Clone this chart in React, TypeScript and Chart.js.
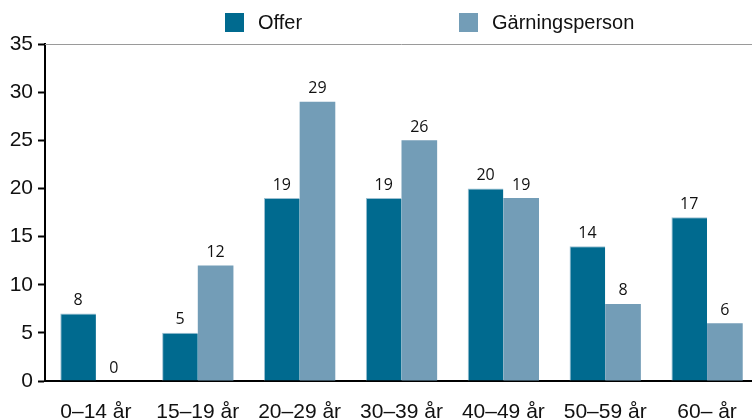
import React, { useEffect, useRef } from "react";
import { Chart, registerables } from "chart.js";

Chart.register(...registerables);

const categories = ["0–14 år", "15–19 år", "20–29 år", "30–39 år", "40–49 år", "50–59 år", "60– år"];
const seriesNames = ["Offer", "Gärningsperson"];
// bar heights as drawn
const offerValues = [7, 5, 19, 19, 20, 14, 17];
const perpetratorValues = [0, 12, 29, 25, 19, 8, 6];
// value labels as printed above bars
const offerLabels = ["8", "5", "19", "19", "20", "14", "17"];
const perpetratorLabels = ["0", "12", "29", "26", "19", "8", "6"];
const yTicks = [0, 5, 10, 15, 20, 25, 30, 35];

const OFFER_COLOR = "#006a8f";
const PERP_COLOR = "#739db7";

const valueLabelPlugin = {
  id: "valueLabels",
  afterDatasetsDraw(chart: any) {
    const ctx = chart.ctx;
    const labelSets = [offerLabels, perpetratorLabels];
    ctx.save();
    ctx.font = "16px 'Open Sans'";
    ctx.fillStyle = "#111";
    ctx.textAlign = "center";
    ctx.textBaseline = "alphabetic";
    chart.data.datasets.forEach((_ds: any, di: number) => {
      const meta = chart.getDatasetMeta(di);
      meta.data.forEach((bar: any, i: number) => {
        ctx.fillText(labelSets[di][i], bar.x, bar.y - 8.5);
      });
    });
    ctx.restore();
  },
};

const frameLegendPlugin = {
  id: "frameLegend",
  afterDraw(chart: any) {
    const ctx = chart.ctx;
    const area = chart.chartArea;
    ctx.save();
    // top frame line
    ctx.strokeStyle = "#9a9a9a";
    ctx.lineWidth = 1;
    ctx.beginPath();
    ctx.moveTo(area.left, area.top + 0.5);
    ctx.lineTo(area.right, area.top + 0.5);
    ctx.stroke();
    // legend
    const items = [
      { x: 225, color: OFFER_COLOR, text: seriesNames[0] },
      { x: 459, color: PERP_COLOR, text: seriesNames[1] },
    ];
    ctx.font = "20px 'Liberation Sans'";
    ctx.textBaseline = "middle";
    ctx.textAlign = "left";
    items.forEach((it) => {
      ctx.fillStyle = it.color;
      ctx.fillRect(it.x, 13, 19, 19);
      ctx.fillStyle = "#111";
      ctx.fillText(it.text, it.x + 33, 23);
    });
    ctx.restore();
  },
};

export default function App() {
  const ref = useRef<HTMLCanvasElement | null>(null);
  useEffect(() => {
    if (!ref.current) return;
    const chart = new Chart(ref.current, {
      type: "bar",
      data: {
        labels: categories,
        datasets: [
          {
            label: seriesNames[0],
            data: offerValues,
            backgroundColor: OFFER_COLOR,
            borderColor: "#9cc0d2",
            borderWidth: { top: 1, left: 1, right: 0, bottom: 0 },
            borderSkipped: false,
          },
          {
            label: seriesNames[1],
            data: perpetratorValues,
            backgroundColor: PERP_COLOR,
            borderWidth: 0,
          },
        ],
      },
      options: {
        responsive: false,
        animation: false,
        layout: { padding: { top: 44, right: 2, left: 0, bottom: 0 } },
        datasets: { bar: { barPercentage: 1, categoryPercentage: 0.7 } },
        plugins: {
          legend: { display: false },
          tooltip: { enabled: false },
          title: { display: false },
        },
        scales: {
          x: {
            grid: { display: false, drawTicks: false },
            border: { display: true, color: "#000", width: 2 },
            ticks: {
              color: "#111",
              font: { family: "'Liberation Sans'", size: 21 },
              padding: 19,
              maxRotation: 0,
              autoSkip: false,
            },
            afterFit(scale: any) {
              scale.height = 38;
            },
          },
          y: {
            min: 0,
            max: 35,
            afterBuildTicks(scale: any) {
              scale.ticks = yTicks.map((v) => ({ value: v }));
            },
            grid: {
              display: true,
              drawOnChartArea: false,
              drawTicks: true,
              tickLength: 7,
              tickWidth: 2,
              tickColor: "#000",
            },
            border: { display: true, color: "#000", width: 2 },
            ticks: {
              color: "#111",
              font: { family: "'Liberation Sans'", size: 21 },
              padding: 5,
            },
            afterFit(scale: any) {
              scale.width = 45;
            },
          },
        },
      },
      plugins: [valueLabelPlugin, frameLegendPlugin],
    });
    return () => chart.destroy();
  }, []);
  return (
    <div
      style={{
        position: "fixed",
        left: 0,
        top: 0,
        width: 752,
        height: 419,
        overflow: "hidden",
        background: "#fff",
      }}
    >
      <canvas ref={ref} width={760} height={419} style={{ display: "block" }} />
    </div>
  );
}
